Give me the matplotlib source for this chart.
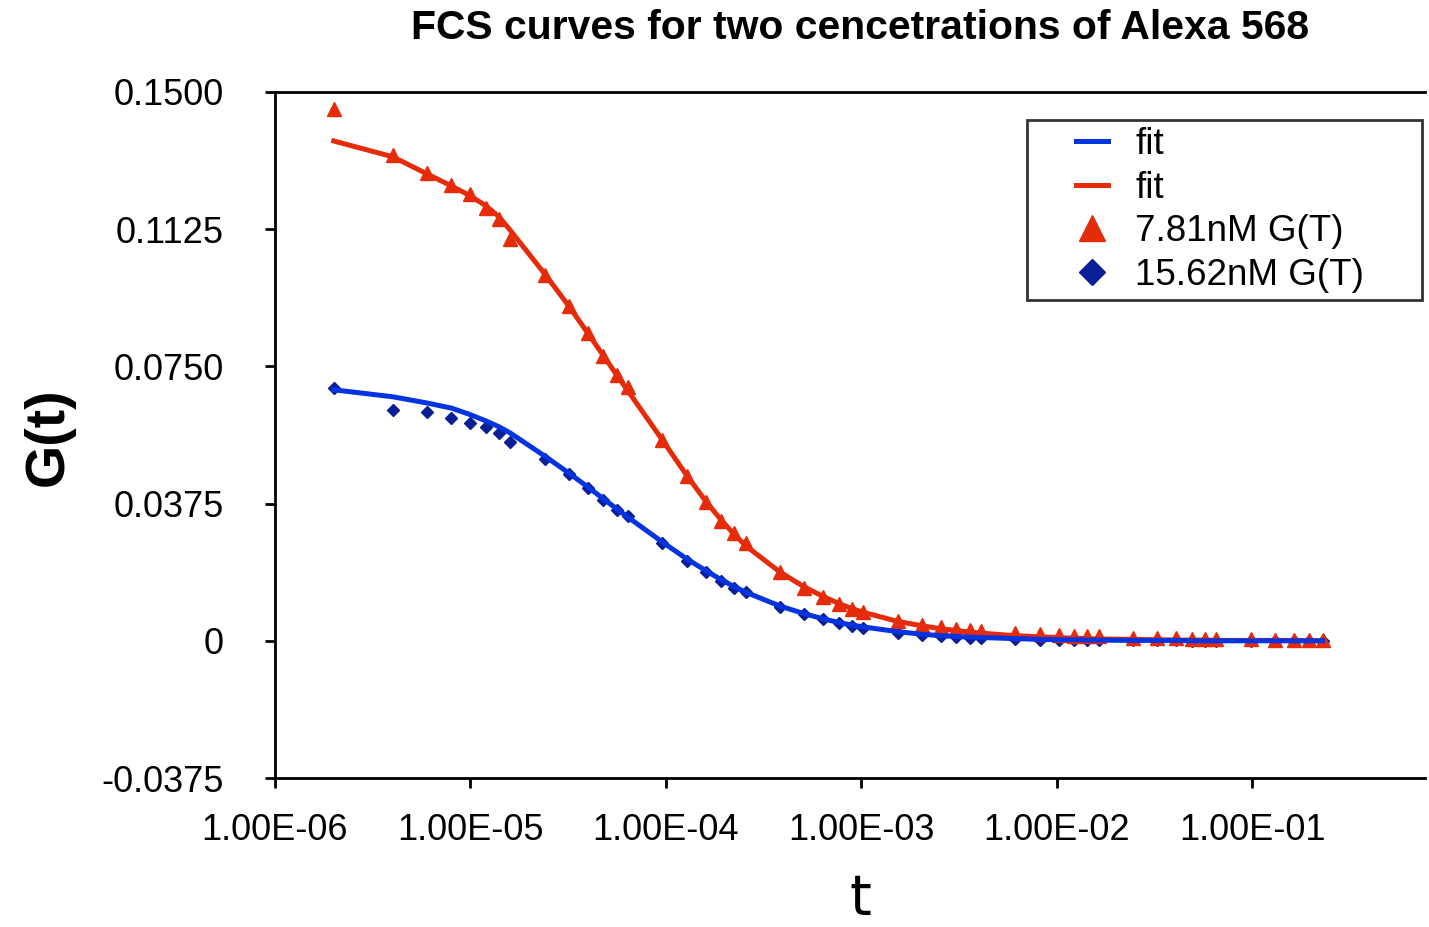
import matplotlib
matplotlib.use("Agg")
import matplotlib.pyplot as plt
from matplotlib.lines import Line2D
from matplotlib.legend_handler import HandlerLine2D
from matplotlib.ticker import FixedLocator, FuncFormatter, NullLocator

# ---- data ----
tau = [2e-6, 4e-6, 6e-6, 8e-6, 1.0e-5, 1.2e-5, 1.4e-5, 1.6e-5,
       2.4e-5, 3.2e-5, 4.0e-5, 4.8e-5, 5.6e-5, 6.4e-5,
       9.6e-5, 1.28e-4, 1.6e-4, 1.92e-4, 2.24e-4, 2.56e-4,
       3.84e-4, 5.12e-4, 6.4e-4, 7.68e-4, 8.96e-4, 1.024e-3,
       1.536e-3, 2.048e-3, 2.56e-3, 3.072e-3, 3.584e-3, 4.096e-3,
       6.144e-3, 8.192e-3, 1.024e-2, 1.2288e-2, 1.4336e-2, 1.6384e-2,
       2.4576e-2, 3.2768e-2, 4.096e-2, 4.9152e-2, 5.7344e-2, 6.5536e-2,
       9.8304e-2, 0.131072, 0.16384, 0.196608, 0.229376]

g_781 = [0.1454, 0.1328, 0.1279, 0.1246, 0.1222, 0.1183, 0.1153, 0.1099,
         0.1000, 0.0916, 0.0842, 0.0779, 0.0727, 0.0694,
         0.0549, 0.0451, 0.0380, 0.0328, 0.0295, 0.0268,
         0.0189, 0.0145, 0.0120, 0.0101, 0.0087, 0.0079,
         0.0055, 0.0044, 0.0038, 0.0033, 0.0030, 0.0027,
         0.0021, 0.0018, 0.0016, 0.0014, 0.0013, 0.0012,
         0.0009, 0.0008, 0.0007, 0.0006, 0.0006, 0.0005,
         0.0004, 0.0003, 0.0003, 0.0002, 0.0002]

fit_781 = [0.1366, 0.1323, 0.1276, 0.1243, 0.1216, 0.1189, 0.1159, 0.1122,
           0.1003, 0.0914, 0.0840, 0.0779, 0.0727, 0.0683,
           0.0549, 0.0452, 0.0382, 0.0330, 0.0291, 0.0260,
           0.0188, 0.0147, 0.0121, 0.0102, 0.0088, 0.0078,
           0.0053, 0.0041, 0.0033, 0.0028, 0.0024, 0.0021,
           0.0014, 0.0011, 0.0009, 0.0007, 0.0006, 0.0005,
           0.0004, 0.0003, 0.0002, 0.0002, 0.0002, 0.0001,
           0.0001, 0.0001, 0.0001, 0.0000, 0.0000]

g_1562 = [0.0691, 0.0631, 0.0626, 0.0609, 0.0596, 0.0585, 0.0568, 0.0543,
          0.0497, 0.0456, 0.0418, 0.0385, 0.0358, 0.0342,
          0.0268, 0.0219, 0.0189, 0.0164, 0.0145, 0.0134,
          0.0093, 0.0073, 0.0060, 0.0049, 0.0040, 0.0036,
          0.0022, 0.0016, 0.0012, 0.0010, 0.0008, 0.0007,
          0.0004, 0.0003, 0.0003, 0.0002, 0.0002, 0.0001,
          0.0001, 0.0001, 0.0001, 0.0000, 0.0000, 0.0000,
          0.0000, 0.0000, 0.0000, 0.0000, 0.0000]

fit_1562 = [0.0686, 0.0667, 0.0650, 0.0636, 0.0618, 0.0601, 0.0585, 0.0568,
            0.0505, 0.0458, 0.0420, 0.0388, 0.0361, 0.0338,
            0.0270, 0.0224, 0.0192, 0.0167, 0.0148, 0.0133,
            0.0095, 0.0074, 0.0060, 0.0050, 0.0043, 0.0038,
            0.0025, 0.0018, 0.0014, 0.0012, 0.0010, 0.0009,
            0.0006, 0.0004, 0.0003, 0.0003, 0.0002, 0.0002,
            0.0001, 0.0001, 0.0001, 0.0000, 0.0000, 0.0000,
            0.0000, 0.0000, 0.0000, 0.0000, 0.0000]

x_ticks = [1e-6, 1e-5, 1e-4, 1e-3, 1e-2, 1e-1]
y_ticks = [-0.0375, 0.0, 0.0375, 0.0750, 0.1125, 0.1500]
y_tick_labels = ["-0.0375", "0", "0.0375", "0.0750", "0.1125", "0.1500"]

title = "FCS curves for two cencetrations of Alexa 568"
labels = ["fit", "fit", "7.81nM G(T)", "15.62nM G(T)"]

RED = "#E52B0A"
BLUE = "#0433E0"
NAVY = "#0A1E96"

plt.rcParams["font.family"] = ["Liberation Sans", "DejaVu Sans"]

fig = plt.figure(figsize=(14.29, 9.27), dpi=100)
ax = fig.add_axes([0.1924, 0.1607, 0.9972 - 0.1924, 0.9008 - 0.1607])

ax.set_xscale("log")
ax.set_xlim(1e-6, 10 ** -0.115)
ax.set_ylim(-0.0375, 0.15)

l_d, = ax.plot(tau, g_1562, linestyle="none", marker="D", ms=6.5, color=NAVY, zorder=2)
l_t, = ax.plot(tau, g_781, linestyle="none", marker="^", ms=9.5, color=RED, zorder=3)
l_fr, = ax.plot(tau, fit_781, color=RED, lw=3.6, zorder=4)
l_fb, = ax.plot(tau, fit_1562, color=BLUE, lw=3.6, zorder=5)

ax.xaxis.set_major_locator(FixedLocator(x_ticks))
ax.xaxis.set_minor_locator(NullLocator())
ax.xaxis.set_major_formatter(FuncFormatter(lambda v, p: f"{v:.2E}"))
ax.set_yticks(y_ticks)
ax.set_yticklabels(y_tick_labels)

ax.tick_params(axis="x", direction="out", length=7, width=2, labelsize=26, pad=18)
ax.tick_params(axis="y", direction="out", length=7, width=2, labelsize=26, pad=30)

for s in ["left", "bottom", "top"]:
    ax.spines[s].set_linewidth(2)
ax.spines["right"].set_visible(False)

fig.text(0.602, 0.970, title, ha="center", va="center", fontsize=29.4, fontweight="bold")
fig.text(0.034, 0.529, "G(t)", ha="center", va="center", rotation=90,
         fontsize=40, fontweight="bold")
fig.text(0.602, 0.001, "t", ha="center", va="bottom", fontsize=40, family="DejaVu Sans")

leg = ax.legend([l_fb, l_fr, l_t, l_d], labels,
                loc="upper left", bbox_to_anchor=(0.654, 0.703, 0.343, 0.256),
                mode="expand", borderaxespad=0, fontsize=26.5, frameon=True,
                fancybox=False, edgecolor="black", borderpad=0.18,
                labelspacing=0.24, handlelength=2.03, handletextpad=0.73,
                markerscale=2.0, numpoints=1,
                handler_map={Line2D: HandlerLine2D(xpad=1.15)})
leg.get_frame().set_linewidth(2)

fig.savefig("out.png", dpi=100)
